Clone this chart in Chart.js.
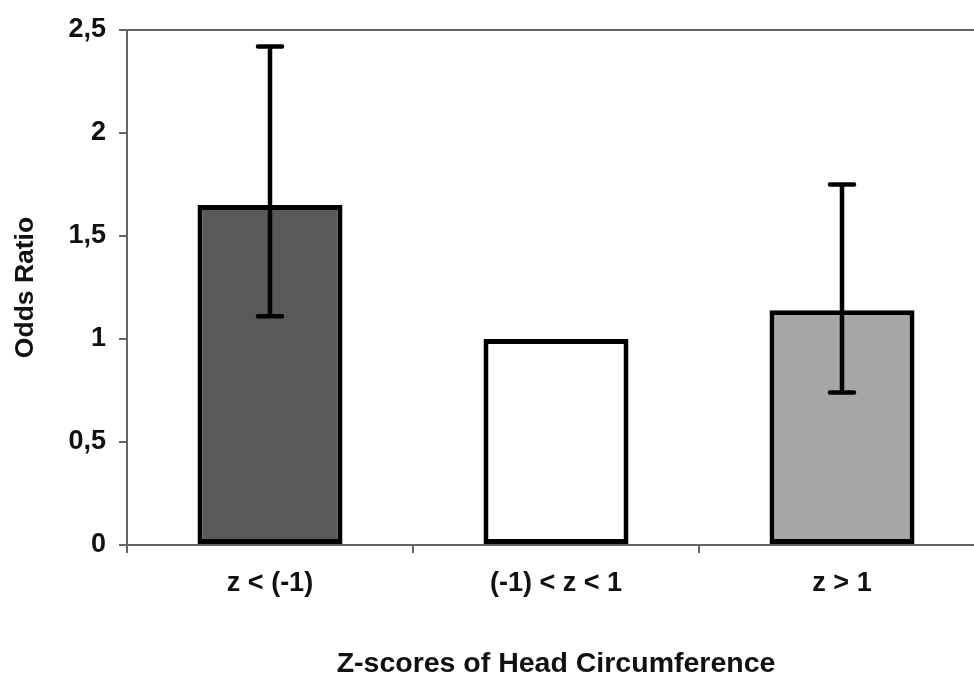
<!DOCTYPE html>
<html>
<head>
<meta charset="utf-8">
<script src="https://cdn.jsdelivr.net/npm/chart.js@4.4.0/dist/chart.umd.min.js"></script>
<style>
  html, body { margin: 0; padding: 0; background: #fff; overflow: hidden; }
  #wrap { width: 974px; height: 678px; overflow: hidden; }
</style>
</head>
<body>
<div id="wrap"><canvas id="myChart" width="1000" height="678"></canvas></div>
<script>
// values
let categories = ["z < (-1)", "(-1) < z < 1", "z > 1"];
let oddsRatio = [1.65, 1.0, 1.14];
let ciLower = [1.11, null, 0.74];
let ciUpper = [2.42, null, 1.75];
let barColors = ["#595959", "#ffffff", "#a6a6a6"];

let axisColor = "#666666";
let fontFamily = "'Liberation Sans', Arial, sans-serif";

// draws the whiskers on top of the bars
const errorBars = {
  id: "errorBars",
  afterDatasetsDraw(chart) {
    let ctx = chart.ctx;
    let x = chart.scales.x;
    let y = chart.scales.y;
    ctx.save();
    ctx.strokeStyle = "#000";
    ctx.lineWidth = 4.5;
    ctx.lineCap = "round";
    for (let i = 0; i < categories.length; i++) {
      if (ciLower[i] == null) continue;
      let cx = x.getPixelForValue(i);
      let yLo = y.getPixelForValue(ciLower[i]);
      let yHi = y.getPixelForValue(ciUpper[i]);
      ctx.beginPath();
      ctx.moveTo(cx, yLo);
      ctx.lineTo(cx, yHi);
      ctx.moveTo(cx - 12, yHi);
      ctx.lineTo(cx + 12, yHi);
      ctx.moveTo(cx - 12, yLo);
      ctx.lineTo(cx + 12, yLo);
      ctx.stroke();
    }
    ctx.restore();
  },
};

var ctx = document.getElementById("myChart");

new Chart(ctx, {
  type: "bar",
  data: {
    labels: categories,
    datasets: [
      {
        data: oddsRatio,
        backgroundColor: barColors,
        borderColor: "#000",
        borderWidth: 5,
        borderSkipped: false,
        categoryPercentage: 1,
        barPercentage: 0.507,
      },
    ],
  },
  plugins: [errorBars],
  options: {
    responsive: false,
    animation: false,
    layout: { padding: { top: 30, right: 15, left: 0, bottom: 0 } },
    plugins: {
      legend: { display: false },
      tooltip: { enabled: false },
    },
    scales: {
      x: {
        offset: true,
        grid: {
          offset: true,
          drawOnChartArea: false,
          tickLength: 8,
          tickColor: axisColor,
          lineWidth: 2,
        },
        border: { display: true, color: axisColor, width: 2 },
        ticks: {
          color: "#111",
          padding: 14,
          font: { family: fontFamily, size: 27, weight: "bold" },
        },
        title: {
          display: true,
          text: "Z-scores of Head Circumference",
          color: "#111",
          padding: { top: 0, bottom: 0 },
          font: { family: fontFamily, size: 28.5, weight: "bold", lineHeight: 1 },
        },
        afterFit: (scale) => {
          scale.height = 133;
        },
      },
      y: {
        min: 0,
        max: 2.5,
        ticks: {
          stepSize: 0.5,
          color: "#111",
          padding: 13,
          font: { family: fontFamily, size: 27, weight: "bold" },
          callback: (v) => String(v).replace(".", ","),
        },
        grid: {
          color: (c) => (c.tick && c.tick.value === 2.5 ? axisColor : "rgba(0,0,0,0)"),
          tickColor: axisColor,
          tickLength: 8,
          lineWidth: 2,
        },
        border: { display: true, color: axisColor, width: 2 },
        title: {
          display: true,
          text: "Odds Ratio",
          color: "#111",
          padding: { top: 10, bottom: 0 },
          font: { family: fontFamily, size: 26.5, weight: "bold" },
        },
        afterFit: (scale) => {
          scale.width = 127;
        },
      },
    },
  },
});
</script>
</body>
</html>
